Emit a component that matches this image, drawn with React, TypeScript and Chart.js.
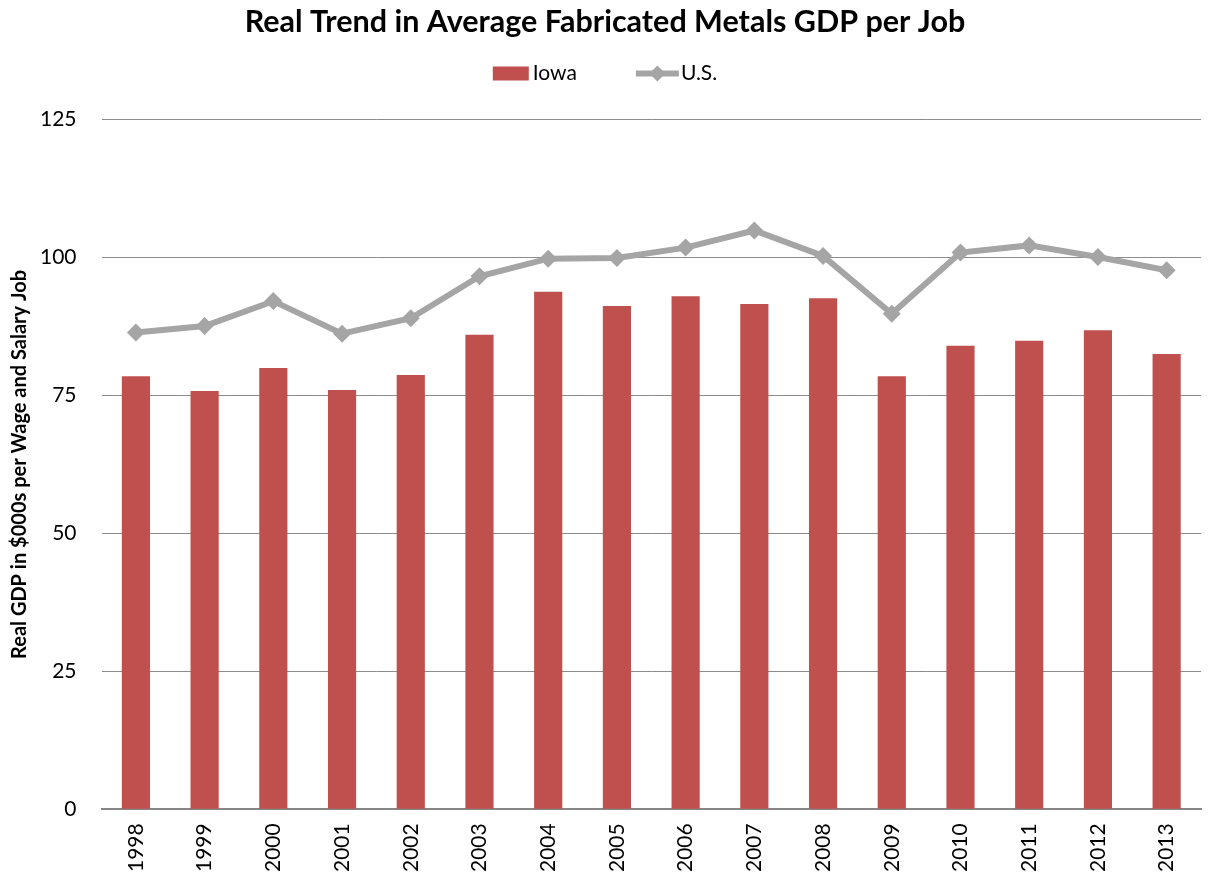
import React, { useEffect, useRef } from "react";
import { Chart, registerables } from "chart.js";

Chart.register(...registerables);

const years = ["1998","1999","2000","2001","2002","2003","2004","2005","2006","2007","2008","2009","2010","2011","2012","2013"];
const iowa = [78.5, 75.8, 80.0, 76.0, 78.7, 86.0, 93.8, 91.2, 93.0, 91.6, 92.6, 78.5, 84.0, 84.9, 86.8, 82.5];
const us = [86.4, 87.6, 92.1, 86.2, 89.0, 96.6, 99.8, 99.9, 101.8, 104.9, 100.3, 89.8, 100.9, 102.2, 100.1, 97.7];
const yTicks = [0, 25, 50, 75, 100, 125];

const RED = "#C0504D";
const GRAY = "#A5A5A5";
const FONT = "Lato, 'Open Sans', sans-serif";
const CLEAR = "rgba(0,0,0,0)";

const legendPlugin = {
  id: "customLegend",
  afterDraw(chart: any) {
    const ctx = chart.ctx as CanvasRenderingContext2D;
    ctx.save();
    ctx.font = `21px ${FONT}`;
    ctx.textBaseline = "middle";
    ctx.fillStyle = "#000";
    const items = chart.data.datasets.slice().reverse();
    const barDs = items[0];
    const lineDs = items[1];
    const wA = ctx.measureText(barDs.label).width;
    const wB = ctx.measureText(lineDs.label).width;
    const boxW = 36, lineW = 43, gap = 59;
    const total = boxW + 4 + wA + gap + lineW + 2 + wB;
    let x = (chart.width - total) / 2;
    const cy = 73.5;
    ctx.fillStyle = barDs.backgroundColor;
    ctx.fillRect(x, cy - 7, boxW, 14);
    x += boxW + 4;
    ctx.fillStyle = "#000";
    ctx.fillText(barDs.label, x, cy);
    x += wA + gap;
    ctx.strokeStyle = lineDs.borderColor;
    ctx.lineWidth = 6;
    ctx.beginPath();
    ctx.moveTo(x, cy);
    ctx.lineTo(x + lineW, cy);
    ctx.stroke();
    ctx.fillStyle = lineDs.borderColor;
    const mx = x + lineW / 2;
    ctx.beginPath();
    ctx.moveTo(mx, cy - 8);
    ctx.lineTo(mx + 8, cy);
    ctx.lineTo(mx, cy + 8);
    ctx.lineTo(mx - 8, cy);
    ctx.closePath();
    ctx.fill();
    x += lineW + 2;
    ctx.fillStyle = "#000";
    ctx.fillText(lineDs.label, x, cy);
    ctx.restore();
  },
};

export default function App() {
  const ref = useRef<HTMLCanvasElement | null>(null);
  useEffect(() => {
    if (!ref.current) return;
    const chart = new Chart(ref.current, {
      data: {
        labels: years,
        datasets: [
          {
            type: "line",
            label: "U.S.",
            data: us,
            borderColor: GRAY,
            backgroundColor: GRAY,
            borderWidth: 6,
            pointStyle: "rectRot",
            pointRadius: 9,
            pointBackgroundColor: GRAY,
            pointBorderColor: GRAY,
            pointBorderWidth: 0,
            order: 0,
          },
          {
            type: "bar",
            label: "Iowa",
            data: iowa,
            backgroundColor: RED,
            barPercentage: 0.41,
            categoryPercentage: 1,
            order: 1,
          },
        ],
      },
      plugins: [legendPlugin],
      options: {
        animation: false,
        responsive: true,
        maintainAspectRatio: false,
        layout: { padding: { left: 8, right: 8, top: 0, bottom: 12 } },
        plugins: {
          title: {
            display: true,
            text: "Real Trend in Average Fabricated Metals GDP per Job",
            color: "#000",
            font: { family: FONT, size: 30.5, weight: "bold" },
            padding: { top: 4, bottom: 79 },
          },
          legend: { display: false },
          tooltip: { enabled: false },
        },
        scales: {
          x: {
            grid: { display: false, drawTicks: true, tickLength: 14, tickColor: CLEAR },
            border: { display: true, color: "#868686", width: 2 },
            ticks: {
              color: "#000",
              font: { family: FONT, size: 21 },
              minRotation: 90,
              maxRotation: 90,
              padding: 0,
            },
          },
          y: {
            min: 0,
            max: 125,
            afterBuildTicks: (scale: any) => {
              scale.ticks = yTicks.map((v) => ({ value: v }));
            },
            grid: { color: "#8C8C8C", lineWidth: 1, drawTicks: true, tickLength: 25, tickColor: CLEAR },
            border: { display: false },
            ticks: {
              color: "#000",
              font: { family: FONT, size: 21 },
              padding: 0,
            },
            title: {
              display: true,
              text: "Real GDP in $000s per Wage and Salary Job",
              color: "#000",
              font: { family: FONT, size: 20, weight: "bold" },
              padding: { top: 0, bottom: 8 },
            },
          },
        },
      },
    });
    return () => chart.destroy();
  }, []);
  return (
    <div style={{ position: "fixed", left: 0, top: 0, width: 1210, height: 884, background: "#fff" }}>
      <canvas ref={ref} />
    </div>
  );
}
